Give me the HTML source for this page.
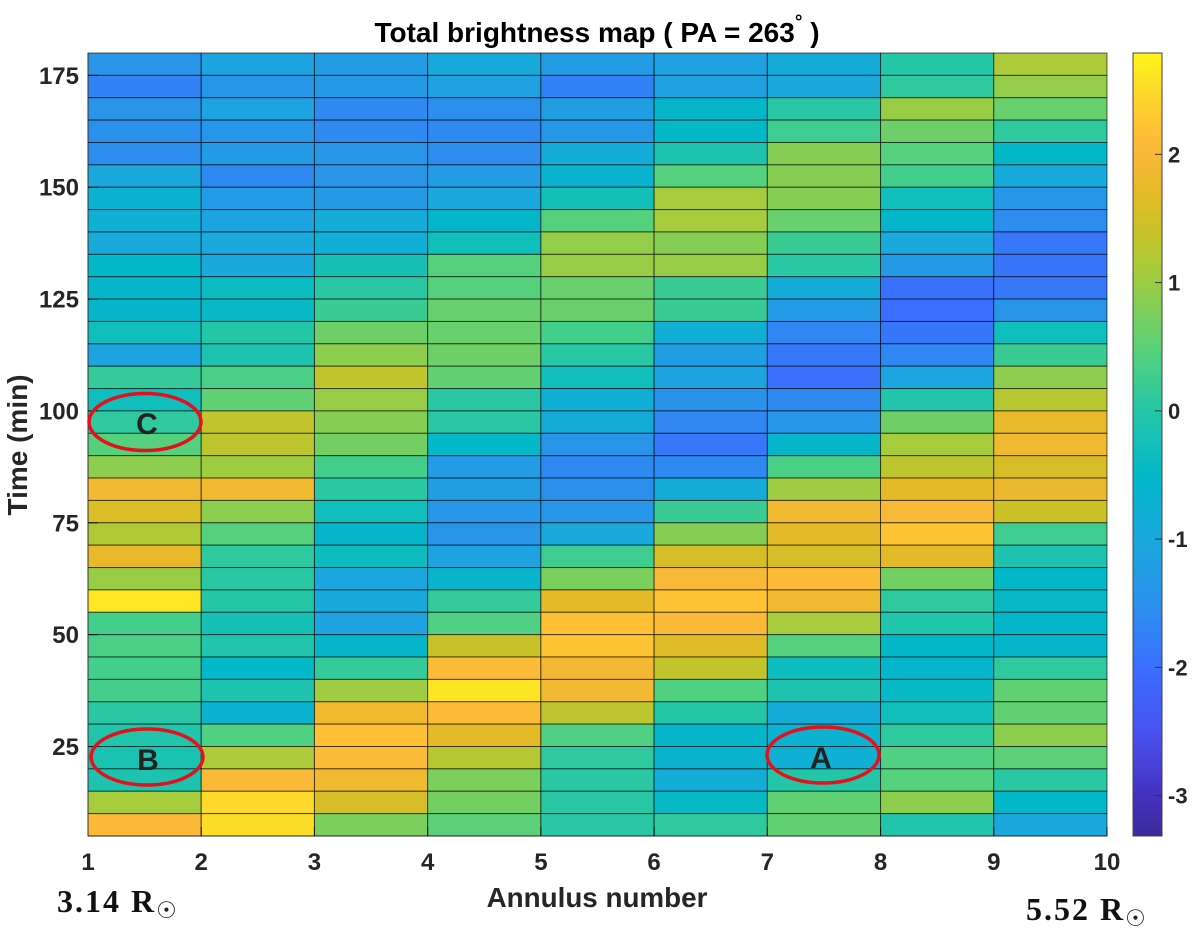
<!DOCTYPE html>
<html lang="en">
<head>
<meta charset="utf-8">
<title>Total brightness map</title>
<style>
html,body{margin:0;padding:0;background:#fff;width:1200px;height:943px;overflow:hidden}
svg{display:block}
text{font-family:"Liberation Sans",sans-serif}
.tick{font-weight:700;font-size:24px;fill:#262626}
.serif{font-family:"Liberation Serif",serif;font-weight:700;font-size:32px;fill:#111}
.sun{font-family:"DejaVu Sans",sans-serif;font-weight:400;font-size:23px;fill:#222}
.mark{font-weight:700;font-size:30px;fill:#222;text-anchor:middle}
</style>
</head>
<body>
<svg id="chart" xmlns="http://www.w3.org/2000/svg" width="1200" height="943" viewBox="0 0 1200 943">
  <rect width="1200" height="943" fill="#fff"/>
  <text x="597" y="42" text-anchor="middle" font-size="28" font-weight="700" fill="#000">Total brightness map ( PA = 263<tspan dy="-14" font-size="19">°</tspan><tspan dy="14"> )</tspan></text>
  <g id="cells"></g>
  <g id="xaxis"></g>
  <g id="yaxis"></g>
  <g id="colorbar"></g>
  <text x="597" y="907" text-anchor="middle" font-size="27.8" font-weight="700" fill="#262626">Annulus number</text>
  <text transform="translate(27,445) rotate(-90)" text-anchor="middle" font-size="28" font-weight="700" fill="#262626">Time (min)</text>
  <ellipse cx="145" cy="422" rx="56" ry="28.5" fill="none" stroke="#e6101c" stroke-width="3.5"/>
  <ellipse cx="147" cy="757" rx="56" ry="28" fill="none" stroke="#e6101c" stroke-width="3.5"/>
  <ellipse cx="823" cy="755" rx="56" ry="28" fill="none" stroke="#e6101c" stroke-width="3.5"/>
  <text class="mark" x="147" y="434">C</text>
  <text class="mark" x="148" y="770">B</text>
  <text class="mark" x="821" y="768">A</text>
  <text class="serif" x="57" y="912" letter-spacing="2">3.14 R<tspan class="sun" dy="6">☉</tspan></text>
  <text class="serif" x="1026" y="920" letter-spacing="2">5.52 R<tspan class="sun" dy="6">☉</tspan></text>
</svg>
<script>
const annulusEdges = [1,2,3,4,5,6,7,8,9,10];
const timeBins = [175,170,165,160,155,150,145,140,135,130,125,120,115,110,105,100,95,90,85,80,75,70,65,60,55,50,45,40,35,30,25,20,15,10,5];
const binMinutes = 5;
const xTickLabels = [1,2,3,4,5,6,7,8,9,10];
const yTickLabels = [25,50,75,100,125,150,175];
const colorTickLabels = [-3,-2,-1,0,1,2];
const colorRange = [-3.315,2.79];
const timeRange = [5,180];
const brightness = [
[-1.4,-1.1,-1.25,-.95,-1.25,-1.15,-.9,0,1.15],
[-1.7,-1.35,-1.3,-1.15,-1.7,-1.15,-1,.1,.95],
[-1.4,-1.1,-1.6,-1.5,-1.2,-.55,.05,1,.6],
[-1.5,-1.35,-1.6,-1.6,-1.35,-.5,.25,.65,.1],
[-1.55,-1.3,-1.4,-1.55,-.9,-.1,.85,.45,-.5],
[-1,-1.6,-1.4,-1.25,-.65,.45,.85,.3,-.95],
[-.7,-1.25,-1.3,-1,-.25,1.1,.85,-.3,-1.35],
[-.75,-1.1,-.85,-.55,.45,1.1,.6,-.55,-1.55],
[-.95,-1,-.8,-.3,.95,.85,.2,-1,-1.85],
[-.5,-1,-.2,.45,1,1,.05,-1.3,-1.9],
[-.55,-.4,.05,.45,.6,.2,-.9,-1.95,-1.85],
[-.55,-.45,.2,.6,.62,.2,-1.25,-2,-1.4],
[-.3,0,.65,.6,.3,-.8,-1.65,-1.9,-.3],
[-1.1,-.1,.9,.65,.05,-1.2,-1.85,-1.65,.2],
[.15,.35,1.35,.55,-.3,-1.1,-1.95,-1.05,.9],
[-.3,.55,1,.05,-.8,-1.45,-1.6,-.05,1.25],
[.1,1.35,.85,.05,-.9,-1.65,-1.35,.65,1.75],
[.45,1.3,.7,-.5,-1.4,-1.85,-.55,1.1,1.85],
[.9,1.05,.3,-1.25,-1.6,-1.6,.35,1.3,1.55],
[1.9,1.85,.05,-1.2,-1.5,-.9,1.05,1.7,1.8],
[1.6,.9,-.3,-1.35,-1.35,.2,1.9,2,1.45],
[1.2,.45,-.55,-1.4,-1,.85,1.7,2.25,.25],
[1.75,.1,-.35,-1.1,.25,1.55,1.55,1.7,-.1],
[1,.05,-1.05,-.6,.75,2,2.1,.7,-.5],
[2.65,0,-.95,.15,1.7,2.25,1.85,.1,-.45],
[.3,-.2,-1.1,.4,2.2,2.05,1.1,-.05,-.55],
[.35,-.05,-.55,1.4,2.25,1.65,.45,-.5,-.55],
[.3,-.5,.15,2.1,1.95,1.35,-.35,-.55,.1],
[.3,-.1,1.05,2.62,1.9,.4,-.1,-.45,.55],
[.05,-.7,1.85,2.1,1.3,0,-.9,-.3,.55],
[-.05,.4,2.2,1.7,.4,-.55,-.7,.1,.9],
[-.15,1.15,2.1,1.25,.1,-.65,-.75,.4,.5],
[-.1,2.05,1.85,.75,.05,-.85,0,.45,.05],
[1.1,2.5,1.55,.7,.05,-.45,.55,.9,-.5],
[2.05,2.55,.75,.5,.05,.1,.55,-.05,-1]
];

const NS = 'http://www.w3.org/2000/svg';
const plot = {left:88,right:1107,top:53,bottom:836};
const bar = {left:1133,right:1162};
function xScale(a){return plot.left+(a-annulusEdges[0])/(annulusEdges[annulusEdges.length-1]-annulusEdges[0])*(plot.right-plot.left);}
function yScale(t){return plot.bottom-(t-timeRange[0])/(timeRange[1]-timeRange[0])*(plot.bottom-plot.top);}
function cScale(v){return plot.bottom-(v-colorRange[0])/(colorRange[1]-colorRange[0])*(plot.bottom-plot.top);}
function colorFor(v){
  const stops=[[-3.315,59,42,152],[-3,68,48,190],[-2.5,72,82,240],[-2,58,110,255],[-1.5,43,144,236],[-1,26,168,221],[-.5,3,184,200],[0,36,198,168],[.4,79,208,130],[.8,128,207,88],[1.1,166,203,60],[1.4,200,194,40],[1.7,229,186,40],[2,248,184,56],[2.2,255,192,53],[2.5,252,217,42],[2.79,255,245,26]];
  if(v<=stops[0][0])return 'rgb('+stops[0].slice(1).join(',')+')';
  for(let i=1;i<stops.length;i++){
    if(v<=stops[i][0]){
      const a=stops[i-1],b=stops[i],f=(v-a[0])/(b[0]-a[0]);
      return 'rgb('+[1,2,3].map(k=>Math.round(a[k]+(b[k]-a[k])*f)).join(',')+')';
    }
  }
  const l=stops[stops.length-1];
  return 'rgb('+l.slice(1).join(',')+')';
}
function mk(tag,parent){const e=document.createElementNS(NS,tag);parent.appendChild(e);return e;}

const cells=document.getElementById('cells');
timeBins.forEach((t,r)=>{
  for(let c=0;c<annulusEdges.length-1;c++){
    const rc=mk('rect',cells);
    
    
    const x0=xScale(annulusEdges[c]),x1=xScale(annulusEdges[c+1]);
    const y0=yScale(t+binMinutes),y1=yScale(t);
    rc.setAttribute('x',x0);
    rc.setAttribute('y',y0);
    rc.setAttribute('width',x1-x0);
    rc.setAttribute('height',y1-y0);
    rc.setAttribute('fill',colorFor(brightness[r][c]));
    rc.setAttribute('stroke','rgba(0,0,0,0.6)');
    rc.setAttribute('stroke-width','1');
  }
});

const xaxis=document.getElementById('xaxis');
const xLine=mk('line',xaxis);


xLine.setAttribute('x1',plot.left);
xLine.setAttribute('x2',plot.right);
xLine.setAttribute('y1',plot.bottom);
xLine.setAttribute('y2',plot.bottom);
xLine.setAttribute('stroke','#222');
xLine.setAttribute('stroke-width','1');
xTickLabels.forEach(v=>{
  const x=xScale(v);
  const tk=mk('line',xaxis);
  
  
  tk.setAttribute('x1',x);
  tk.setAttribute('x2',x);
  tk.setAttribute('y1',plot.bottom);
  tk.setAttribute('y2',plot.bottom-9);
  tk.setAttribute('stroke','#111');
  const lb=mk('text',xaxis);
  
  
  lb.setAttribute('class','tick');
  lb.setAttribute('x',x);
  lb.setAttribute('y',870);
  lb.setAttribute('text-anchor','middle');
  lb.textContent=v;
});

const yaxis=document.getElementById('yaxis');
const yLine=mk('line',yaxis);


yLine.setAttribute('x1',plot.left);
yLine.setAttribute('x2',plot.left);
yLine.setAttribute('y1',plot.top);
yLine.setAttribute('y2',plot.bottom);
yLine.setAttribute('stroke','#333');
yLine.setAttribute('stroke-width','1');
yTickLabels.forEach(v=>{
  const y=yScale(v);
  const tk=mk('line',yaxis);
  
  
  tk.setAttribute('x1',plot.left);
  tk.setAttribute('x2',plot.left+10);
  tk.setAttribute('y1',y);
  tk.setAttribute('y2',y);
  tk.setAttribute('stroke','#111');
  const lb=mk('text',yaxis);
  
  
  lb.setAttribute('class','tick');
  lb.setAttribute('x',79);
  lb.setAttribute('y',y+8.5);
  lb.setAttribute('text-anchor','end');
  lb.textContent=v;
});

const cb=document.getElementById('colorbar');
const cbSteps=256;
for(let i=0;i<cbSteps;i++){
  const v0=colorRange[0]+(colorRange[1]-colorRange[0])*i/cbSteps;
  const v1=colorRange[0]+(colorRange[1]-colorRange[0])*(i+1)/cbSteps;
  const s=mk('rect',cb);
  
  
  s.setAttribute('x',bar.left);
  s.setAttribute('y',cScale(v1));
  s.setAttribute('width',bar.right-bar.left);
  s.setAttribute('height',cScale(v0)-cScale(v1)+0.5);
  s.setAttribute('fill',colorFor((v0+v1)/2));
}
const cbBox=mk('rect',cb);


cbBox.setAttribute('x',bar.left);
cbBox.setAttribute('y',plot.top);
cbBox.setAttribute('width',bar.right-bar.left);
cbBox.setAttribute('height',plot.bottom-plot.top);
cbBox.setAttribute('fill','none');
cbBox.setAttribute('stroke','#444');
cbBox.setAttribute('stroke-width','1');
colorTickLabels.forEach(v=>{
  const y=cScale(v);
  const tk=mk('line',cb);
  
  
  tk.setAttribute('x1',bar.right-7);
  tk.setAttribute('x2',bar.right);
  tk.setAttribute('y1',y);
  tk.setAttribute('y2',y);
  tk.setAttribute('stroke','#333');
  const lb=mk('text',cb);
  
  
  lb.setAttribute('class','tick');
  lb.setAttribute('x',1168);
  lb.setAttribute('y',y+8);
  lb.style.fontSize='22px';
  lb.textContent=v;
});
</script>
</body>
</html>
